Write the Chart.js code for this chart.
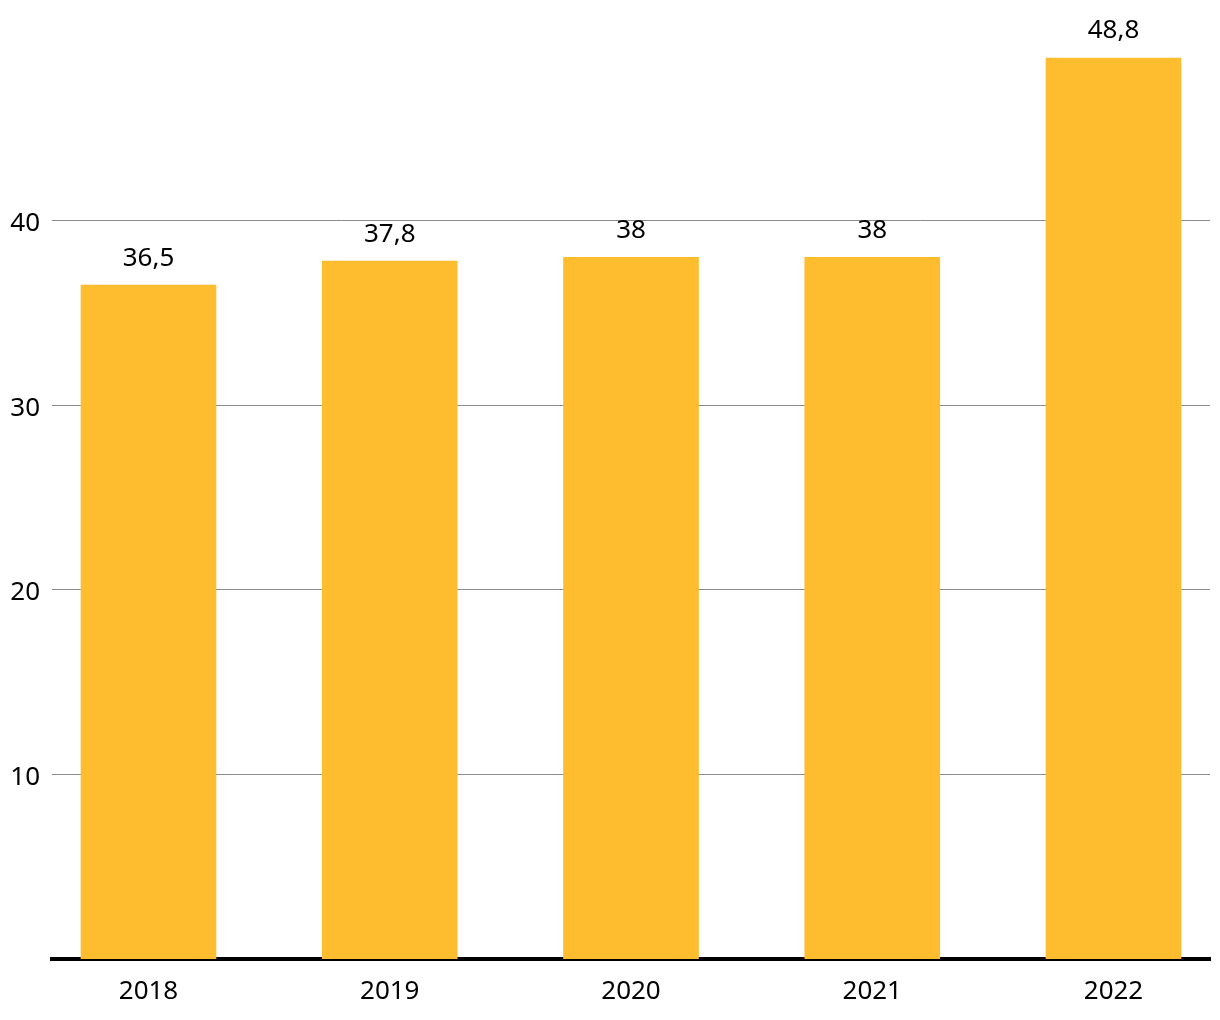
<!DOCTYPE html>
<html>
<head>
<meta charset="utf-8">
<script src="https://cdn.jsdelivr.net/npm/chart.js@4/dist/chart.umd.min.js"></script>
<style>
  html, body { margin: 0; padding: 0; background: #fff; }
  #wrap { width: 1220px; height: 1020px; }
</style>
</head>
<body>
<div id="wrap"><canvas id="barChart" width="1220" height="1020"></canvas></div>
<script>
// Chart data
const years = [2018, 2019, 2020, 2021, 2022];
const values = [36.5, 37.8, 38, 38, 48.8];
const yTicks = [10, 20, 30, 40];

const FONT = '"Noto Sans", sans-serif';

function formatValue(v) {
    return String(v).replace('.', ',');
}

// Value labels above each bar
const valueLabels = {
    id: 'valueLabels',
    afterDatasetsDraw(chart) {
        const ctx = chart.ctx;
        const meta = chart.getDatasetMeta(0);
        ctx.save();
        ctx.fillStyle = '#000';
        ctx.font = '26px ' + FONT;
        ctx.textAlign = 'center';
        ctx.textBaseline = 'middle';
        meta.data.forEach((bar, i) => {
            ctx.fillText(formatValue(values[i]), bar.x, bar.y - 27);
        });
        ctx.restore();
    }
};

const ctx = document.getElementById('barChart').getContext('2d');
const barChart = new Chart(ctx, {
    type: 'bar',
    data: {
        datasets: [{
            data: years.map((y, i) => ({ x: y, y: values[i] })),
            backgroundColor: '#FDBD2E',
            barThickness: 135
        }]
    },
    plugins: [valueLabels],
    options: {
        responsive: false,
        animation: false,
        layout: { padding: { top: 0, right: 10, left: 0, bottom: 0 } },
        plugins: {
            legend: { display: false },
            tooltip: { enabled: false }
        },
        scales: {
            x: {
                type: 'linear',
                min: 2017.6,
                max: 2022.4,
                offset: false,
                grid: { display: false },
                border: { display: true, color: '#000', width: 4 },
                ticks: {
                    stepSize: 1,
                    includeBounds: false,
                    padding: 9,
                    color: '#000',
                    font: { family: FONT, size: 26 },
                    callback: function(value) {
                        return Number.isInteger(value) ? String(value) : null;
                    }
                },
                afterFit: function(scale) { scale.height = 61; }
            },
            y: {
                min: 0,
                max: 50.45,
                border: { display: false },
                grid: {
                    drawTicks: false,
                    color: function(c) {
                        return yTicks.includes(c.tick.value) ? '#8c8c8c' : 'rgba(0,0,0,0)';
                    },
                    lineWidth: 1
                },
                ticks: {
                    stepSize: 10,
                    padding: 12,
                    labelOffset: 3,
                    color: '#000',
                    font: { family: FONT, size: 26 },
                    callback: function(value) {
                        return yTicks.includes(value) ? String(value) : null;
                    }
                },
                afterFit: function(scale) { scale.width = 52; }
            }
        }
    }
});
</script>
</body>
</html>
